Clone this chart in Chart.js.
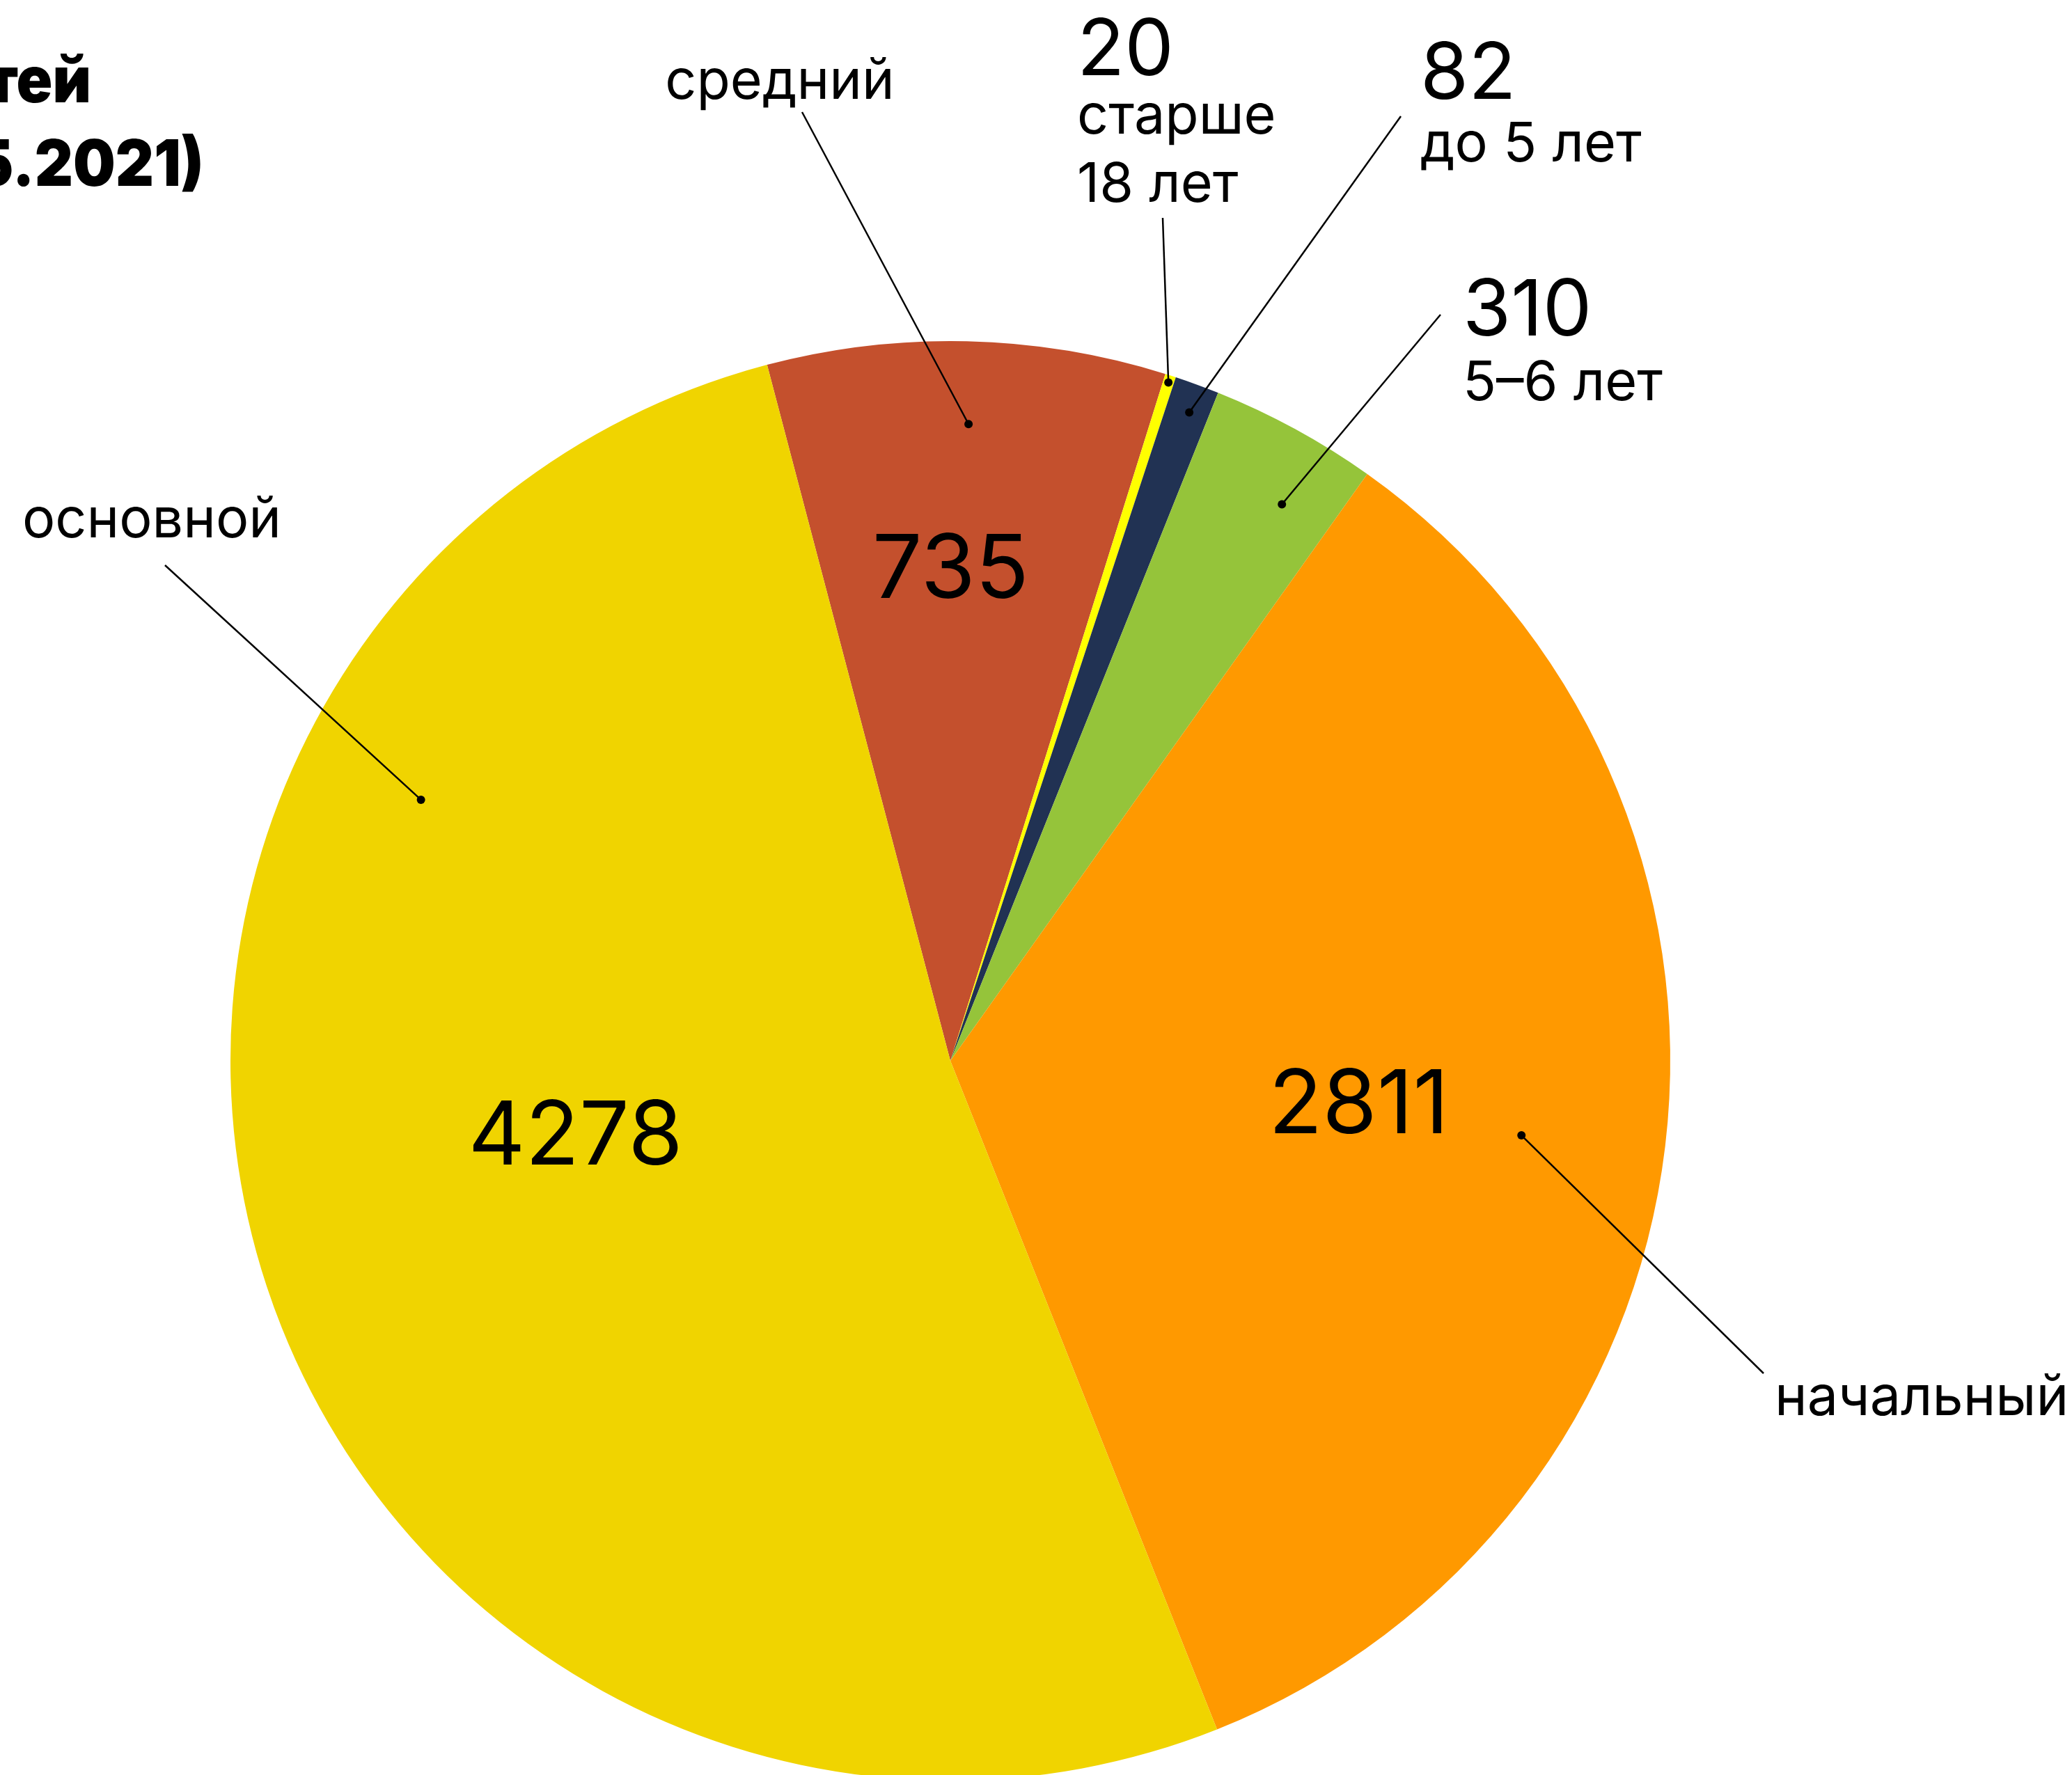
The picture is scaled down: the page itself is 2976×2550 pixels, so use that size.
<!DOCTYPE html>
<html>
<head>
<meta charset="utf-8">
<script src="https://cdn.jsdelivr.net/npm/chart.js@4.4.0/dist/chart.umd.min.js"></script>
<style>
    html, body { margin: 0; padding: 0; background: #fff; overflow: hidden; }
    #wrap { position: relative; width: 2976px; height: 2600px; }
</style>
</head>
<body>
<div id="wrap"><canvas id="pie"></canvas></div>
<script>
// --- Data ---
const categories = ['средний', 'старше 18 лет', 'до 5 лет', '5-6 лет', 'начальный', 'основной'];
const values = [735, 20, 82, 310, 2811, 4278];
const colors = ['#C4502D', '#FFFF00', '#213253', '#95C43A', '#FF9900', '#F0D400'];
const titleLines = ['Количество детей', '(на 01.05.2021)'];

// --- Label layout (positions only, per slice) ---
// inner: number inside the slice; dot: leader-line anchor on the slice
// line: outer end of the leader; text: where the caption sits
const labelLayout = [
    { inner: { frac: 0.46, rf: 0.688 }, dot: { frac: 0.51, rf: 0.885 }, line: [1152, 161],
      num: null, lines: [{ t: 'средний', x: 1120, y: 142, align: 'center' }] },
    { inner: null, dot: { frac: 0.5, rf: 0.99 }, line: [1670, 313],
      num: { x: 1547, y: 108 }, lines: [{ t: 'старше', x: 1547, y: 192 }, { t: '18 лет', x: 1547, y: 290 }] },
    { inner: null, dot: { frac: 0.55, rf: 0.96 }, line: [2012, 167],
      num: { x: 2040, y: 142 }, lines: [{ t: 'до 5 лет', x: 2040, y: 232 }] },
    { inner: null, dot: { frac: 0.66, rf: 0.9 }, line: [2069, 452],
      num: { x: 2101, y: 482 }, lines: [{ t: '5–6 лет', x: 2101, y: 575 }] },
    { inner: { frac: 0.49, rf: 0.57 }, dot: { frac: 0.505, rf: 0.8 }, line: [2533, 1973],
      num: null, lines: [{ t: 'начальный', x: 2549, y: 2033 }] },
    { inner: { frac: 0.54, rf: 0.53 }, dot: { frac: 0.738, rf: 0.82 }, line: [237, 812],
      num: null, lines: [{ t: 'основной', x: 32, y: 772 }] }
];

const FONT = 'Inter, "Noto Sans", sans-serif';
const CAP = 0.727;

function arcPoint(arc, frac, rf) {
    const p = arc.getProps(['x', 'y', 'startAngle', 'endAngle', 'outerRadius'], true);
    const a = p.startAngle + frac * (p.endAngle - p.startAngle);
    return [p.x + Math.cos(a) * p.outerRadius * rf, p.y + Math.sin(a) * p.outerRadius * rf];
}

// title face is a touch narrower than Inter Black, so squeeze it horizontally
function squeezedText(ctx, text, rightX, y, sx) {
    ctx.save();
    ctx.translate(rightX, y);
    ctx.scale(sx, 1);
    ctx.fillText(text, 0, 0);
    ctx.restore();
}

const labelsPlugin = {
    id: 'sliceLabels',
    afterDraw(chart) {
        const ctx = chart.ctx;
        const arcs = chart.getDatasetMeta(0).data;
        ctx.save();
        ctx.fillStyle = '#000';
        ctx.strokeStyle = '#000';
        ctx.textBaseline = 'alphabetic';

        // title, cut off by the left edge like in the original
        ctx.font = `900 92px ${FONT}`;
        ctx.textAlign = 'right';
        squeezedText(ctx, titleLines[0], 131, 147, 0.93);
        squeezedText(ctx, titleLines[1], 293, 267, 0.93);

        arcs.forEach((arc, i) => {
            const lay = labelLayout[i];
            if (lay.inner) {
                const [x, y] = arcPoint(arc, lay.inner.frac, lay.inner.rf);
                ctx.font = `400 127px ${FONT}`;
                ctx.textAlign = 'center';
                ctx.fillText(String(values[i]), x, y + 127 * CAP / 2);
            }
            // leader line + dot
            const [dx, dy] = arcPoint(arc, lay.dot.frac, lay.dot.rf);
            ctx.lineWidth = 2.5;
            ctx.beginPath();
            ctx.moveTo(lay.line[0], lay.line[1]);
            ctx.lineTo(dx, dy);
            ctx.stroke();
            ctx.beginPath();
            ctx.arc(dx, dy, 6, 0, Math.PI * 2);
            ctx.fill();

            if (lay.num) {
                ctx.font = `400 112px ${FONT}`;
                ctx.textAlign = 'left';
                ctx.fillText(String(values[i]), lay.num.x, lay.num.y);
            }
            ctx.font = `400 79px ${FONT}`;
            lay.lines.forEach(l => {
                ctx.textAlign = l.align || 'left';
                ctx.fillText(l.t, l.x, l.y);
            });
        });
        ctx.restore();
    }
};

new Chart(document.getElementById('pie'), {
    type: 'pie',
    data: {
        labels: categories,
        datasets: [{
            data: values,
            backgroundColor: colors,
            borderWidth: 0
        }]
    },
    options: {
        responsive: true,
        maintainAspectRatio: false,
        devicePixelRatio: 1,
        animation: false,
        rotation: -14.75,
        layout: { padding: { left: 331, right: 577, top: 490, bottom: 42 } },
        plugins: {
            legend: { display: false },
            tooltip: { enabled: false },
            title: { display: false }
        }
    },
    plugins: [labelsPlugin]
});
</script>
</body>
</html>
